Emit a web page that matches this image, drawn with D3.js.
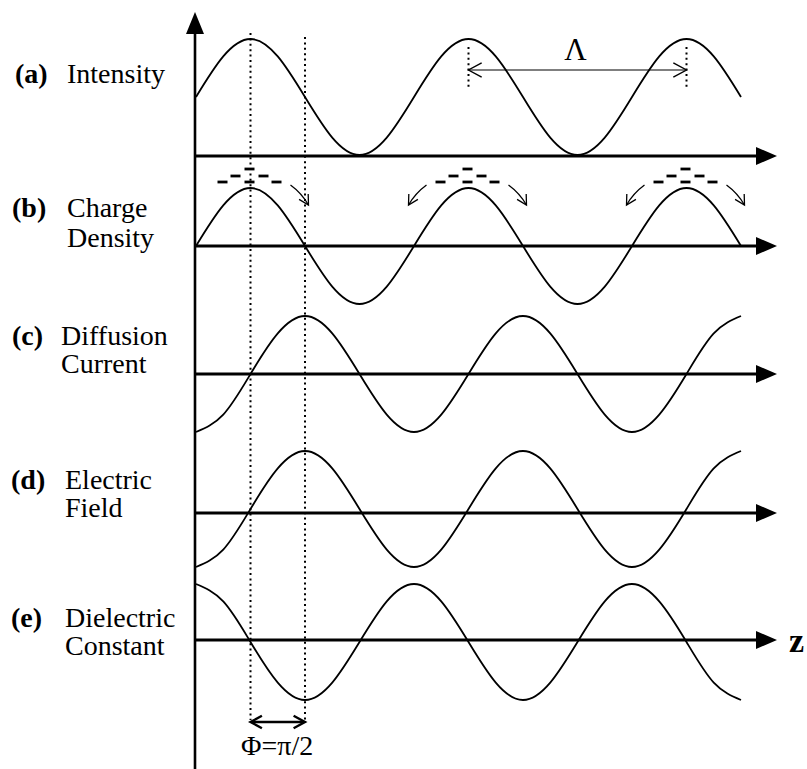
<!DOCTYPE html>
<html><head><meta charset="utf-8">
<script src="https://cdn.jsdelivr.net/npm/d3@7"></script>
<style>html,body{margin:0;padding:0;background:#fff;overflow:hidden}</style>
</head><body><svg id="c" width="807" height="769"></svg>
<script>
// ---- data (z in units of the grating period Λ) ----
const zGrid = [0, 0.125, 0.25, 0.375, 0.5, 0.625, 0.75, 0.875, 1, 1.125, 1.25, 1.375, 1.5, 1.625, 1.75, 1.875, 2, 2.125, 2.25, 2.375, 2.5];
const intensity          = [1, 1.7, 2, 1.7, 1, 0.3, 0, 0.3, 1, 1.7, 2, 1.7, 1, 0.3, 0, 0.3, 1, 1.7, 2, 1.7, 1];
const chargeDensity      = [0, 0.7, 1, 0.7, 0, -0.7, -1, -0.7, 0, 0.7, 1, 0.7, 0, -0.7, -1, -0.7, 0, 0.7, 1, 0.7, 0];
const diffusionCurrent   = [-1, -0.7, 0, 0.7, 1, 0.7, 0, -0.7, -1, -0.7, 0, 0.7, 1, 0.7, 0, -0.7, -1, -0.7, 0, 0.7, 1];
const electricField      = [-1, -0.7, 0, 0.7, 1, 0.7, 0, -0.7, -1, -0.7, 0, 0.7, 1, 0.7, 0, -0.7, -1, -0.7, 0, 0.7, 1];
const dielectricConstant = [1, 0.7, 0, -0.7, -1, -0.7, 0, 0.7, 1, 0.7, 0, -0.7, -1, -0.7, 0, 0.7, 1, 0.7, 0, -0.7, -1];
const rowTags  = ["(a)", "(b)", "(c)", "(d)", "(e)"];
const rowNames = [["Intensity"], ["Charge", "Density"], ["Diffusion", "Current"], ["Electric", "Field"], ["Dielectric", "Constant"]];
const chargePeaks  = [0.25, 1.25, 2.25];
const phaseMarks   = [0.25, 0.5];
const gratingMarks = [1.25, 2.25];
const periodLabel = "Λ";
const phaseLabel  = "Φ=π/2";
const axisLabel   = "z";

// ---- layout ----
const svg = d3.select("#c");
const x = d3.scaleLinear().domain([0, 2.5]).range([196, 741]);
const rows = [
  {vals: intensity,          dom: [0, 2],  rng: [155, 39],  axisY: 156, tagX: 15, nameX: 67, base: 83,  lh: 0},
  {vals: chargeDensity,      dom: [-1, 1], rng: [304, 188], axisY: 246, tagX: 12, nameX: 67, base: 217, lh: 30},
  {vals: diffusionCurrent,   dom: [-1, 1], rng: [432, 316], axisY: 374, tagX: 12, nameX: 61, base: 345, lh: 28},
  {vals: electricField,      dom: [-1, 1], rng: [567, 451], axisY: 513, tagX: 11, nameX: 65, base: 489, lh: 28},
  {vals: dielectricConstant, dom: [-1, 1], rng: [700, 584], axisY: 640, tagX: 11, nameX: 65, base: 627, lh: 28}
];
const serif = "'Liberation Serif','Times New Roman',serif";

function openHead(px, py, ang, len, spread) {
  const a1 = ang + Math.PI - spread, a2 = ang + Math.PI + spread;
  return `M${px + len * Math.cos(a1)},${py + len * Math.sin(a1)}L${px},${py}L${px + len * Math.cos(a2)},${py + len * Math.sin(a2)}`;
}

// dotted phase lines
const dots = svg.append("g").attr("stroke", "#000").attr("stroke-width", 2).attr("stroke-dasharray", "2,3.4");
phaseMarks.forEach((z, i) => {
  dots.append("line").attr("x1", x(z)).attr("x2", x(z)).attr("y1", i === 0 ? 33 : 37).attr("y2", 720);
});
gratingMarks.forEach(z => {
  dots.append("line").attr("x1", x(z)).attr("x2", x(z)).attr("y1", 47).attr("y2", 88);
});

// curves
rows.forEach((r, i) => {
  const y = d3.scaleLinear().domain(r.dom).range(r.rng);
  const line = d3.line().x((d, k) => x(zGrid[k])).y(d => y(d)).curve(d3.curveNatural);
  svg.append("path").attr("d", line(r.vals)).attr("fill", "none").attr("stroke", "#000").attr("stroke-width", 1.8);
});

// horizontal axes
rows.forEach((r, i) => {
  const tip = 777;
  svg.append("line").attr("x1", 196).attr("x2", tip - 12).attr("y1", r.axisY).attr("y2", r.axisY)
    .attr("stroke", "#000").attr("stroke-width", 3);
  svg.append("path").attr("d", `M${tip},${r.axisY}L${tip - 21},${r.axisY - 9}L${tip - 21},${r.axisY + 9}Z`).attr("fill", "#000");
});

// vertical axis
svg.append("line").attr("x1", 195).attr("x2", 195).attr("y1", 28).attr("y2", 769).attr("stroke", "#000").attr("stroke-width", 2.6);
svg.append("path").attr("d", "M195,12L186,34L204,34Z").attr("fill", "#000");

// Λ dimension arrow
const lamY = 70;
svg.append("line").attr("x1", x(gratingMarks[0])).attr("x2", x(gratingMarks[1])).attr("y1", lamY).attr("y2", lamY)
  .attr("stroke", "#000").attr("stroke-width", 1.2);
svg.append("path").attr("d", openHead(x(gratingMarks[0]), lamY, Math.PI, 15, 0.5) + openHead(x(gratingMarks[1]), lamY, 0, 15, 0.5))
  .attr("fill", "none").attr("stroke", "#000").attr("stroke-width", 1.4);
svg.append("text").attr("x", x((gratingMarks[0] + gratingMarks[1]) / 2) - 2).attr("y", 60).attr("text-anchor", "middle")
  .attr("font-family", serif).attr("font-size", 31).text(periodLabel);

// charges above peaks of (b)
const dashPat = [[0, -19], [-14, -12], [14, -12], [-27, -6], [0, -6], [27, -6]];
const peakY = 188;
chargePeaks.forEach((z, k) => {
  const px = x(z) - 1;
  dashPat.forEach(([dx, dy]) => {
    svg.append("line").attr("x1", px + dx - 5).attr("x2", px + dx + 5).attr("y1", peakY + dy).attr("y2", peakY + dy)
      .attr("stroke", "#000").attr("stroke-width", 2.8);
  });
  const sides = k === 0 ? [1] : [-1, 1];
  sides.forEach(s => {
    const x1 = px + s * 41, y1 = 185, x2 = px + s * 59, y2 = 205;
    const cx = (x1 + x2) / 2 + s * 2, cy = (y1 + y2) / 2 - 2;
    svg.append("path").attr("d", `M${x1},${y1}Q${cx},${cy} ${x2},${y2}`).attr("fill", "none").attr("stroke", "#000").attr("stroke-width", 1.3);
    const ang = Math.atan2(y2 - cy, x2 - cx);
    svg.append("path").attr("d", openHead(x2, y2, ang, 11, 0.5)).attr("fill", "none").attr("stroke", "#000").attr("stroke-width", 1.3);
  });
});

// Φ arrow
const phY = 722;
svg.append("line").attr("x1", x(phaseMarks[0]) + 1).attr("x2", x(phaseMarks[1]) - 1).attr("y1", phY).attr("y2", phY)
  .attr("stroke", "#000").attr("stroke-width", 2.4);
svg.append("path").attr("d", openHead(x(phaseMarks[0]), phY, Math.PI, 13, 0.5) + openHead(x(phaseMarks[1]), phY, 0, 13, 0.5))
  .attr("fill", "none").attr("stroke", "#000").attr("stroke-width", 2.4);
svg.append("text").attr("x", 241).attr("y", 755).attr("font-family", serif).attr("font-size", 28).text(phaseLabel);

// z label
svg.append("text").attr("x", 789).attr("y", 652).attr("font-family", serif).attr("font-weight", "bold").attr("font-size", 34).text(axisLabel);

// row labels
rows.forEach((r, i) => {
  svg.append("text").attr("x", r.tagX).attr("y", r.base).attr("font-family", serif).attr("font-weight", "bold")
    .attr("font-size", 28).text(rowTags[i]);
  rowNames[i].forEach((t, j) => {
    svg.append("text").attr("x", r.nameX).attr("y", r.base + j * r.lh).attr("font-family", serif)
      .attr("font-size", 28).text(t);
  });
});
</script></body></html>
